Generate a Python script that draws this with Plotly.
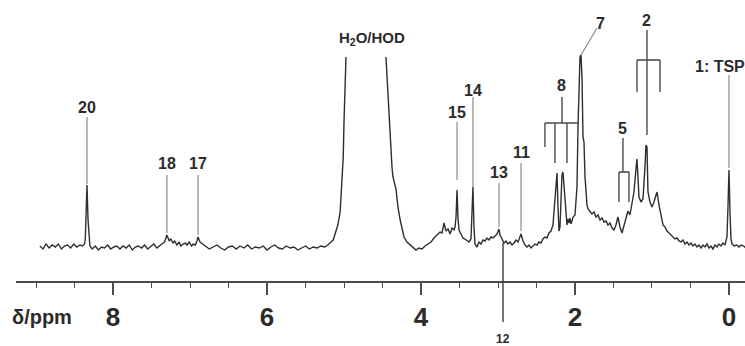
import plotly.graph_objects as go

# 1H NMR spectrum trace: chemical shift (ppm) and intensity (arb. units, baseline = 0).
# None marks the truncated top of the water signal.
ppm = [
    8.95, 8.91, 8.87, 8.83, 8.79, 8.75, 8.71, 8.67, 8.63, 8.59, 8.55, 8.51, 8.47, 8.43, 8.40, 8.37,
    8.36, 8.35, 8.338, 8.325, 8.31, 8.30,
    8.27, 8.23, 8.19, 8.15, 8.11, 8.07, 8.03, 7.99, 7.95, 7.91, 7.87, 7.83, 7.79, 7.75, 7.71, 7.67,
    7.63, 7.59, 7.55, 7.51, 7.47, 7.43, 7.39, 7.35,
    7.33, 7.31, 7.30, 7.27, 7.25, 7.22, 7.20, 7.17, 7.14, 7.12, 7.09, 7.06, 7.04, 7.01, 6.98, 6.96,
    6.93, 6.91, 6.896, 6.87, 6.84,
    6.80, 6.75, 6.70, 6.65, 6.60, 6.55, 6.50, 6.45, 6.40, 6.35, 6.30, 6.25, 6.20, 6.15, 6.10, 6.05,
    6.00, 5.95, 5.90, 5.85, 5.80, 5.75, 5.70, 5.65, 5.60, 5.55, 5.50, 5.45, 5.40, 5.35, 5.30, 5.25,
    5.21, 5.17, 5.14, 5.12, 5.09, 5.08, 5.05, 5.04, 5.03, 5.01, 5.00, 4.99, 4.974,
    4.70,
    4.455, 4.442, 4.429, 4.416, 4.403, 4.390, 4.377, 4.364, 4.351, 4.338, 4.325, 4.312, 4.299,
    4.273, 4.247, 4.221, 4.182, 4.143, 4.104, 4.065, 4.026, 3.987, 3.948, 3.909, 3.870, 3.831,
    3.792, 3.753, 3.727, 3.701, 3.675, 3.649, 3.623, 3.597, 3.571, 3.558, 3.545, 3.532, 3.519,
    3.506, 3.481, 3.455, 3.429, 3.403, 3.377, 3.351, 3.338, 3.325, 3.312, 3.299, 3.273, 3.247,
    3.221, 3.195, 3.169, 3.143, 3.117, 3.091, 3.065, 3.039, 3.013, 2.987, 2.974, 2.948, 2.922,
    2.896, 2.870, 2.844, 2.818, 2.792, 2.766, 2.740, 2.714, 2.701, 2.675, 2.649, 2.623, 2.597,
    2.571, 2.545, 2.519, 2.494, 2.468, 2.442, 2.416, 2.390, 2.364, 2.338, 2.312, 2.286, 2.273,
    2.260, 2.247, 2.234, 2.221, 2.208, 2.195, 2.182, 2.169, 2.156, 2.143, 2.130, 2.117, 2.104,
    2.091, 2.078, 2.065, 2.052, 2.039, 2.026, 2.000, 1.974, 1.961, 1.948, 1.935, 1.922, 1.909,
    1.896, 1.883, 1.870, 1.857, 1.844, 1.831, 1.805, 1.779, 1.753, 1.727, 1.701, 1.675, 1.649,
    1.623, 1.597, 1.571, 1.545, 1.519, 1.494, 1.468, 1.442, 1.416, 1.390, 1.364, 1.338, 1.312,
    1.286, 1.260, 1.234, 1.208, 1.195, 1.182, 1.169, 1.143, 1.117, 1.091, 1.078, 1.065, 1.052,
    1.026, 1.000, 0.974, 0.948, 0.935, 0.909, 0.883, 0.857, 0.831, 0.805, 0.779, 0.753, 0.727,
    0.701, 0.675, 0.649, 0.623, 0.597, 0.571, 0.545, 0.519, 0.494, 0.468, 0.442, 0.416, 0.390,
    0.364, 0.338, 0.312, 0.286, 0.260, 0.234, 0.208, 0.182, 0.156, 0.130, 0.104, 0.078, 0.052,
    0.026, 0.013, 0.000, -0.013, -0.026, -0.04, -0.07, -0.10, -0.13, -0.16, -0.19, -0.22,
]
intensity = [
    1, -2, 3, -1, 2, 0, 3, -2, 1, 2, -1, 3, 0, 2, 1, 3,
    8, 30, 62, 28, 6, 1,
    -2, 1, -3, 0, -1, 2, -2, 0, 1, -2, 1, -1, 2, -3, 0, 1,
    -1, 2, -2, 1, 3, -1, 2, 4,
    5, 10, 12, 6, 8, 4, 6, 2, 5, 1, 3, 4, 2, 5, 1, 3,
    2, 6, 10, 5, 3,
    1, -2, 0, 2, -1, -3, 0, 1, -2, 1, -1, 2, -2, 0, -1, 1,
    -3, 0, 2, -1, -2, 1, -1, 0, -3, -1, 1, -2, 0, -1, 1, 0,
    2, 5, 7, 12, 18, 22, 35, 47, 62, 90, 125, 158, 190,
    None,
    190, 170, 150, 128, 110, 95, 80, 70, 64, 62, 58, 48, 40,
    28, 18, 10, 5, 2, -1, -3, -1, -2, 1, 3, 5, 9,
    12, 15, 14, 24, 16, 18, 13, 19, 17, 20, 30, 57, 28,
    17, 13, 9, 8, 6, 5, 8, 30, 60, 20, 3, 0, 5,
    3, 7, 6, 9, 7, 10, 9, 11, 13, 18, 12, 8, 4,
    6, 3, 5, 2, 4, 7, 5, 10, 13, 6, 2, 0, 2,
    -1, 1, 3, 2, 5, 4, 8, 10, 9, 14, 16, 22, 35,
    50, 68, 74, 40, 16, 20, 55, 72, 75, 62, 45, 28, 22,
    28, 24, 29, 23, 26, 30, 32, 60, 120, 175, 190, 192, 170,
    110, 105, 70, 48, 42, 38, 36, 33, 35, 30, 32, 27, 29,
    25, 26, 22, 24, 19, 17, 22, 30, 20, 14, 22, 28, 36,
    32, 42, 55, 78, 88, 70, 50, 45, 48, 80, 102, 100, 55,
    45, 40, 45, 52, 55, 42, 30, 22, 20, 16, 14, 12, 10,
    8, 9, 6, 5, 7, 3, 5, 2, 4, 1, 3, 0, 2,
    -1, 2, 0, 3, -1, 1, -2, 2, 0, 3, 1, 4, 2,
    10, 40, 77, 35, 8, 3, 1, 2, 0, 2, 1, -1,
]

# Single-line peak assignments: label, shift, label height, leader-line top and bottom
single_labels = ["20", "18", "17", "15", "14", "13", "11", "1: TSP"]
single_ppm = [8.338, 7.30, 6.896, 3.532, 3.325, 2.987, 2.701, 0.0]
single_text_y = [140, 84, 84, 135, 157, 75, 95, 181]
single_line_top = [130, 72, 72, 125, 150, 64, 84, 172]
single_line_bottom = [63, 14, 12, 67, 60, 20, 16, 79]
single_text_ppm = [8.338, 7.30, 6.896, 3.532, 3.325, 2.987, 2.701, 0.117]

# Multiplet brackets: label, stem shift, label height, stem span, bar height, leg shifts, leg bottom
bracket_labels = ["8", "2", "5"]
bracket_ppm = [2.169, 1.065, 1.377]
bracket_text_y = [162, 227, 119]
bracket_stem = [(150, 124), (217, 112), (109, 75)]
bracket_bar_y = [124, 187, 75]
bracket_bar_span = [(2.390, 1.961), (1.195, 0.896), (1.429, 1.299)]
bracket_legs = [[(2.390, 100), (2.260, 84), (2.104, 84)],
                [(1.195, 155), (0.896, 155)],
                [(1.429, 45), (1.299, 45)]]

label_font = dict(family="Liberation Sans Narrow, Arial Narrow, Liberation Sans, Arial",
                  size=16, color="#2b2b2b", weight="bold")
lead_color = "#8a8a8a"
bracket_color = "#4a4a4a"

fig = go.Figure()
fig.add_trace(go.Scatter(x=ppm, y=intensity, mode="lines",
                         line=dict(color="#2e2e2e", width=1.4),
                         connectgaps=False, hoverinfo="skip", showlegend=False))

shapes = []
annotations = []

for lab, xp, tx, ty, top, bot in zip(single_labels, single_ppm, single_text_ppm,
                                      single_text_y, single_line_top, single_line_bottom):
    shapes.append(dict(type="line", xref="x", yref="y", x0=xp, x1=xp, y0=top, y1=bot,
                       line=dict(color=lead_color, width=1.2)))
    annotations.append(dict(x=tx, y=ty, xref="x", yref="y", text=lab, showarrow=False,
                            font=label_font, xanchor="center", yanchor="middle"))

for lab, xp, ty, stem, by, span, legs in zip(bracket_labels, bracket_ppm, bracket_text_y,
                                            bracket_stem, bracket_bar_y, bracket_bar_span,
                                            bracket_legs):
    shapes.append(dict(type="line", xref="x", yref="y", x0=xp, x1=xp, y0=stem[0], y1=stem[1],
                       line=dict(color=bracket_color, width=1.4)))
    shapes.append(dict(type="line", xref="x", yref="y", x0=span[0], x1=span[1], y0=by, y1=by,
                       line=dict(color=bracket_color, width=1.6)))
    for lx, ly in legs:
        shapes.append(dict(type="line", xref="x", yref="y", x0=lx, x1=lx, y0=by, y1=ly,
                           line=dict(color=bracket_color, width=1.4)))
    annotations.append(dict(x=xp, y=ty, xref="x", yref="y", text=lab, showarrow=False,
                            font=label_font, xanchor="center", yanchor="middle"))

# Peak 7: slanted leader from the peak top to its label
shapes.append(dict(type="line", xref="x", yref="y", x0=1.922, x1=1.714, y0=192, y1=219,
                   line=dict(color=lead_color, width=1.2)))
annotations.append(dict(x=1.675, y=224, xref="x", yref="y", text="7", showarrow=False,
                        font=label_font, xanchor="center", yanchor="middle"))

# Water signal (truncated)
annotations.append(dict(x=4.636, y=209, xref="x", yref="y", text="H<sub>2</sub>O/HOD",
                        showarrow=False, font=dict(label_font, size=15),
                        xanchor="center", yanchor="middle"))

# Peak 12: leader runs below the axis
shapes.append(dict(type="line", xref="x", yref="y", x0=2.935, x1=2.935, y0=4, y1=-75,
                   line=dict(color="#3a3a3a", width=1.4)))
annotations.append(dict(x=2.935, y=-92, xref="x", yref="y", text="12", showarrow=False,
                        font=dict(label_font, size=12), xanchor="center", yanchor="middle"))

# Axis title, placed left of the axis start
annotations.append(dict(x=-0.008, y=-70, xref="paper", yref="y", text="δ/ppm", showarrow=False,
                        font=dict(family="Liberation Sans, Arial", size=20, color="#2b2b2b",
                                  weight="bold"),
                        xanchor="left", yanchor="middle"))

fig.update_layout(
    width=745, height=346,
    margin=dict(l=16, r=0, t=0, b=0),
    paper_bgcolor="white", plot_bgcolor="white",
    shapes=shapes, annotations=annotations,
    xaxis=dict(range=[9.26, -0.208], showgrid=False, zeroline=False,
               anchor="free", position=0.185,
               showline=True, linecolor="#4a4a4a", linewidth=2,
               ticks="outside", ticklen=12, tickwidth=1.5, tickcolor="#4a4a4a",
               tick0=0, dtick=2, ticklabelstandoff=0,
               tickfont=dict(family="Liberation Sans Narrow, Arial Narrow, Liberation Sans, Arial",
                             size=26, color="#2b2b2b", weight="bold"),
               minor=dict(dtick=0.5, tick0=0, ticks="outside", ticklen=5, tickwidth=1.3,
                          tickcolor="#4a4a4a", showgrid=False)),
    yaxis=dict(range=[-99, 247], visible=False, showgrid=False, zeroline=False),
)

fig.write_html("out.html")
